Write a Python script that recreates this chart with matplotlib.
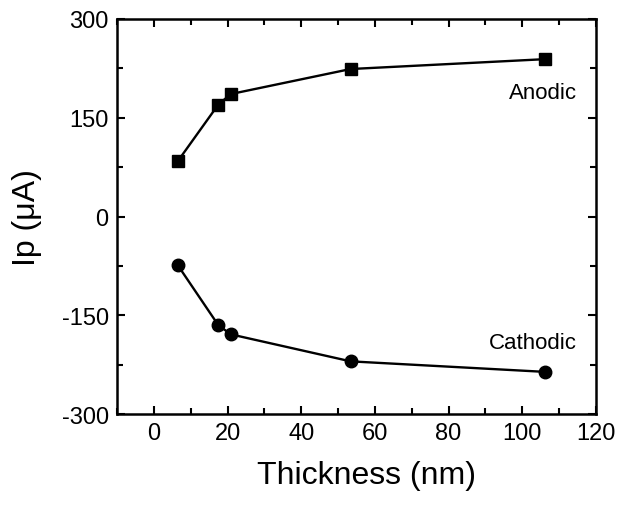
import matplotlib
matplotlib.use('Agg')
import matplotlib.pyplot as plt
from matplotlib.ticker import MultipleLocator

plt.rcParams['font.family'] = ['Liberation Sans', 'DejaVu Sans']
plt.rcParams['axes.unicode_minus'] = False

# espessura (nm) e corrente de pico (uA)
thickness = [6.5, 17.5, 20.9, 53.4, 106.2]
anodic = [84, 170, 186, 224, 239]
cathodic = [-74, -165, -179, -220, -236]

fig = plt.figure(figsize=(6.41, 5.06), dpi=100)
ax = fig.add_axes([0.1825, 0.1798, 0.9298 - 0.1825, 0.9605 - 0.1798])

ax.plot(thickness, anodic, 'k-', marker='s', markersize=8.5, linewidth=1.7)
ax.plot(thickness, cathodic, 'k-', marker='o', markersize=9, linewidth=1.7)

ax.text(105.6, 189, 'Anodic', fontsize=16, ha='center', va='center')
ax.text(103, -192, 'Cathodic', fontsize=16, ha='center', va='center')

ax.set_xlim(-10, 120)
ax.set_ylim(-300, 300)
ax.xaxis.set_major_locator(MultipleLocator(20))
ax.xaxis.set_minor_locator(MultipleLocator(10))
ax.yaxis.set_major_locator(MultipleLocator(150))
ax.yaxis.set_minor_locator(MultipleLocator(75))
ax.tick_params(which='both', direction='in', top=True, right=True, width=1.5, labelsize=17)
ax.tick_params(which='major', length=6, pad=6)
ax.tick_params(which='minor', length=4)
for s in ax.spines.values():
    s.set_linewidth(1.8)

ax.set_xlabel('Thickness (nm)', fontsize=23, labelpad=11)
ax.xaxis.label.set_x(0.52)
ax.set_ylabel('Ip (\u03bcA)', fontsize=23, labelpad=14)

fig.savefig('out.png', dpi=100)
